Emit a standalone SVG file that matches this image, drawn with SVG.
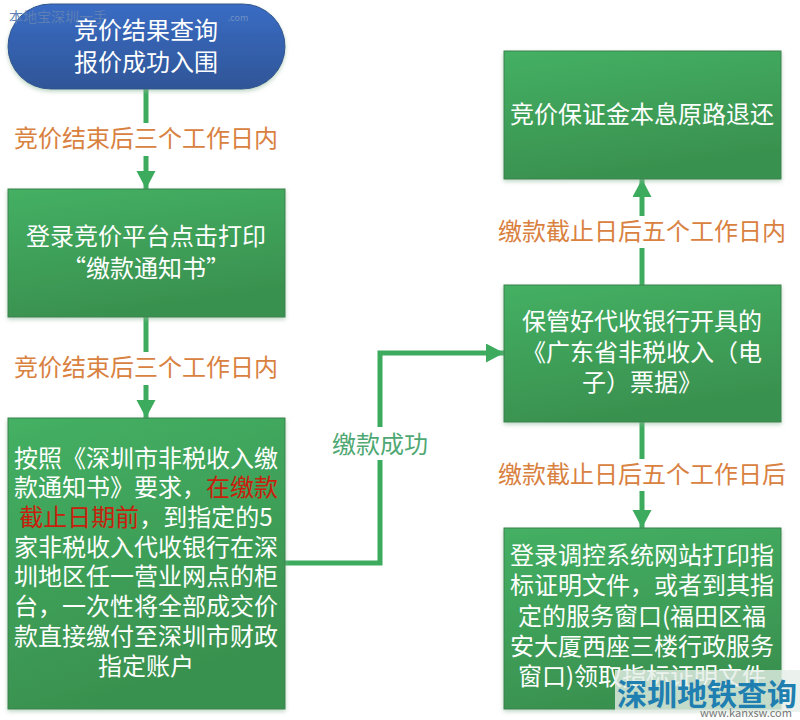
<svg xmlns="http://www.w3.org/2000/svg" width="800" height="720" viewBox="0 0 800 720">
<defs>
<linearGradient id="g" x1="0" y1="0" x2="0.3" y2="1"><stop offset="0" stop-color="#44b063"/><stop offset="1" stop-color="#39914f"/></linearGradient>
<linearGradient id="b" x1="0" y1="0" x2="0" y2="1"><stop offset="0" stop-color="#3a6cc4"/><stop offset="1" stop-color="#2f5597"/></linearGradient>
<filter id="s" x="-5%" y="-5%" width="110%" height="115%"><feDropShadow dx="0" dy="2" stdDeviation="2" flood-color="#8fb89a" flood-opacity="0.6"/></filter>
<marker id="a" markerUnits="userSpaceOnUse" markerWidth="20" markerHeight="20" refX="18" refY="9.5" orient="auto"><path d="M0 0L18 9.5L0 19Z" fill="#3cab5e"/></marker>
</defs>
<style>
text{font-family:"Noto Sans CJK SC","Liberation Sans",sans-serif;text-anchor:middle}
.n{fill:url(#g);stroke:#38824d;stroke-width:1;filter:url(#s)}
.t{fill:#fff;font-size:24px}
.o{fill:#d9813f;font-size:24px}
.c{fill:none;stroke:#3cab5e;stroke-width:5}
</style>
<rect width="800" height="720" fill="#fff"/>
<g id="connectors">
<path class="c" d="M146 89V123"/><path class="c" d="M146 156V189" marker-end="url(#a)"/>
<path class="c" d="M146 317V352"/><path class="c" d="M146 385V418" marker-end="url(#a)"/>
<path class="c" d="M285 563H380V460"/><path class="c" d="M380 427V353H504" marker-end="url(#a)"/>
<path class="c" d="M642 285V248"/><path class="c" d="M642 216V179" marker-end="url(#a)"/>
<path class="c" d="M642 422V459"/><path class="c" d="M642 491V528" marker-end="url(#a)"/>
</g>
<g id="n1"><rect x="8" y="4" width="277" height="85" rx="42.5" fill="url(#b)" stroke="#2f528f" filter="url(#s)"/>
<text class="t" x="146" y="39">竞价结果查询</text><text class="t" x="146" y="71">报价成功入围</text></g>
<g id="l1"><text class="o" x="146" y="147">竞价结束后三个工作日内</text></g>
<g id="n2"><rect class="n" x="8" y="189" width="277" height="128"/>
<text class="t" x="146" y="245">登录竞价平台点击打印</text><text class="t" x="146" y="277">“缴款通知书”</text></g>
<g id="l2"><text class="o" x="146" y="376">竞价结束后三个工作日内</text></g>
<g id="n3"><rect class="n" x="8" y="418" width="277" height="291"/>
<text class="t" x="146" y="467">按照《深圳市非税收入缴</text>
<text class="t" x="146" y="496">款通知书》要求，<tspan fill="#c8200c">在缴款</tspan></text>
<text class="t" x="146" y="526"><tspan fill="#c8200c">截止日期前</tspan>，到指定的5</text>
<text class="t" x="146" y="556">家非税收入代收银行在深</text>
<text class="t" x="146" y="585">圳地区任一营业网点的柜</text>
<text class="t" x="146" y="615">台，一次性将全部成交价</text>
<text class="t" x="146" y="645">款直接缴付至深圳市财政</text>
<text class="t" x="146" y="675">指定账户</text></g>
<g id="l3"><text x="380" y="453" font-size="24" fill="#4fa873">缴款成功</text></g>
<g id="n4"><rect class="n" x="504" y="51" width="277" height="128"/>
<text class="t" x="642" y="123">竞价保证金本息原路退还</text></g>
<g id="l4"><text class="o" x="642" y="240">缴款截止日后五个工作日内</text></g>
<g id="n5"><rect class="n" x="504" y="285" width="277" height="137"/>
<text class="t" x="642" y="330">保管好代收银行开具的</text><text class="t" x="642" y="361">《广东省非税收入（电</text><text class="t" x="642" y="391">子）票据》</text></g>
<g id="l5"><text class="o" x="642" y="483">缴款截止日后五个工作日后</text></g>
<g id="n6"><rect class="n" x="504" y="528" width="277" height="181"/>
<text class="t" x="642" y="564">登录调控系统网站打印指</text><text class="t" x="642" y="594">标证明文件，或者到其指</text><text class="t" x="642" y="625">定的服务窗口(福田区福</text><text class="t" x="642" y="655">安大厦西座三楼行政服务</text><text class="t" x="642" y="685">窗口)领取指标证明文件</text></g>
<g id="watermark-top"><text x="58" y="22" font-size="14" fill="#5d7fb5">本地宝深圳一手</text><text x="238" y="21" font-size="9" fill="#6f90c4">.com</text></g>
<g id="watermark-bottom"><rect x="615" y="670" width="185" height="42" fill="#e6efe8" opacity="0.8"/>
<text x="707" y="705" font-size="30" font-weight="700" fill="#1f7fb0">深圳地铁查询</text>
<text x="746" y="717" font-size="11" fill="#777">www.kanxsw.com</text></g>
</svg>
